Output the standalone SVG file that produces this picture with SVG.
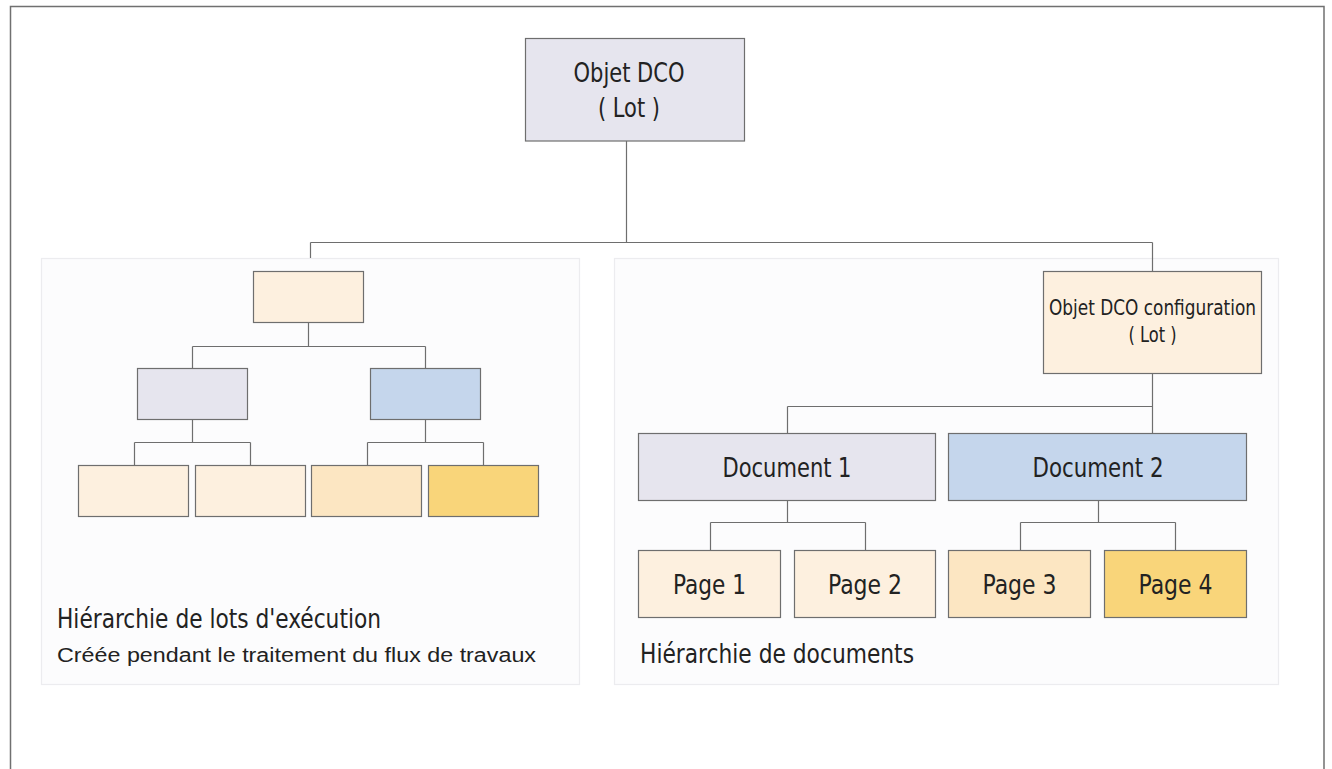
<svg xmlns="http://www.w3.org/2000/svg" width="1332" height="769" viewBox="0 0 1332 769">
  <style>
    .frame { fill: none; stroke: #707070; stroke-width: 1.5; }
    .panel { fill: #fcfcfd; stroke: #ececef; stroke-width: 1.2; }
    .box { stroke: #6e6e6e; stroke-width: 1.2; }
    .lav { fill: #e6e5ee; }
    .cream { fill: #fdf0df; }
    .blue { fill: #c5d6ec; }
    .peach { fill: #fce6c2; }
    .gold { fill: #f9d57a; }
    .wire { fill: none; stroke: #6e6e6e; stroke-width: 1.2; }
    text { font-family: "Liberation Sans Narrow", "DejaVu Sans Condensed", "Liberation Sans", sans-serif; fill: #222222; }
    .big { font-size: 27px; }
    .mid { font-size: 21px; }
    .cap { font-size: 26px; }
    .sub { font-family: "Liberation Sans", Arial, sans-serif; font-size: 20px; }
  </style>

  <!-- outer frame, open at the bottom -->
  <path class="frame" d="M10.5,769 V6.5 H1324 V769"/>

  <!-- panels -->
  <rect class="panel" x="41.5" y="258.5" width="538" height="426"/>
  <rect class="panel" x="614.5" y="258.5" width="664" height="426"/>

  <!-- connectors -->
  <g id="connectors" class="wire">
    <path d="M626.5,141 V242.5 M310.5,242.5 H1152.5 M310.5,242.5 V258 M1152.5,242.5 V271"/>
    <!-- batch hierarchy -->
    <path d="M308.5,322 V346.5 M192.5,346.5 H425.5 M192.5,346.5 V368 M425.5,346.5 V368"/>
    <path d="M192.5,419 V442.5 M134.5,442.5 H250.5 M134.5,442.5 V465 M250.5,442.5 V465"/>
    <path d="M425.5,419 V442.5 M367.5,442.5 H483.5 M367.5,442.5 V465 M483.5,442.5 V465"/>
    <!-- document hierarchy -->
    <path d="M1152.5,373 V433 M787.5,406.5 H1152.5 M787.5,406.5 V433"/>
    <path d="M787.5,500 V522.5 M710.5,522.5 H865.5 M710.5,522.5 V550 M865.5,522.5 V550"/>
    <path d="M1098.5,500 V522.5 M1020.5,522.5 H1175.5 M1020.5,522.5 V550 M1175.5,522.5 V550"/>
  </g>

  <!-- root -->
  <g id="root">
    <rect class="box lav" x="525.5" y="38.5" width="219" height="102.5"/>
    <text class="big" x="629" y="82" text-anchor="middle" textLength="111" lengthAdjust="spacingAndGlyphs">Objet DCO</text>
    <text class="big" x="629" y="117" text-anchor="middle" textLength="62" lengthAdjust="spacingAndGlyphs">( Lot )</text>
  </g>

  <!-- batch hierarchy nodes -->
  <g id="batch-root"><rect class="box cream" x="253.5" y="271.5" width="110" height="51"/></g>
  <g id="batch-a"><rect class="box lav" x="137.5" y="368.5" width="110" height="51"/></g>
  <g id="batch-b"><rect class="box blue" x="370.5" y="368.5" width="110" height="51"/></g>
  <g id="batch-a1"><rect class="box cream" x="78.5" y="465.5" width="110" height="51"/></g>
  <g id="batch-a2"><rect class="box cream" x="195.5" y="465.5" width="110" height="51"/></g>
  <g id="batch-b1"><rect class="box peach" x="311.5" y="465.5" width="110" height="51"/></g>
  <g id="batch-b2"><rect class="box gold" x="428.5" y="465.5" width="110" height="51"/></g>

  <g id="batch-caption">
    <text class="cap" x="57" y="628" textLength="324" lengthAdjust="spacingAndGlyphs">Hiérarchie de lots d'exécution</text>
    <text class="sub" x="57" y="662" textLength="479" lengthAdjust="spacingAndGlyphs">Créée pendant le traitement du flux de travaux</text>
  </g>

  <!-- document hierarchy nodes -->
  <g id="config">
    <rect class="box cream" x="1043.5" y="271.5" width="218" height="102"/>
    <text class="mid" x="1152.5" y="315" text-anchor="middle" textLength="207" lengthAdjust="spacingAndGlyphs">Objet DCO configuration</text>
    <text class="mid" x="1152.5" y="342" text-anchor="middle" textLength="48" lengthAdjust="spacingAndGlyphs">( Lot )</text>
  </g>
  <g id="document-1">
    <rect class="box lav" x="638.5" y="433.5" width="297" height="67"/>
    <text class="big" x="787" y="477" text-anchor="middle" textLength="129" lengthAdjust="spacingAndGlyphs">Document 1</text>
  </g>
  <g id="document-2">
    <rect class="box blue" x="948.5" y="433.5" width="298" height="67"/>
    <text class="big" x="1098" y="477" text-anchor="middle" textLength="131" lengthAdjust="spacingAndGlyphs">Document 2</text>
  </g>
  <g id="page-1">
    <rect class="box cream" x="638.5" y="550.5" width="142" height="67"/>
    <text class="big" x="709.5" y="594" text-anchor="middle" textLength="73" lengthAdjust="spacingAndGlyphs">Page 1</text>
  </g>
  <g id="page-2">
    <rect class="box cream" x="794.5" y="550.5" width="141" height="67"/>
    <text class="big" x="865" y="594" text-anchor="middle" textLength="74" lengthAdjust="spacingAndGlyphs">Page 2</text>
  </g>
  <g id="page-3">
    <rect class="box peach" x="948.5" y="550.5" width="142" height="67"/>
    <text class="big" x="1019.5" y="594" text-anchor="middle" textLength="74" lengthAdjust="spacingAndGlyphs">Page 3</text>
  </g>
  <g id="page-4">
    <rect class="box gold" x="1104.5" y="550.5" width="142" height="67"/>
    <text class="big" x="1175.5" y="594" text-anchor="middle" textLength="74" lengthAdjust="spacingAndGlyphs">Page 4</text>
  </g>
  <g id="document-caption">
    <text class="cap" x="640" y="663" textLength="274" lengthAdjust="spacingAndGlyphs">Hiérarchie de documents</text>
  </g>
</svg>
